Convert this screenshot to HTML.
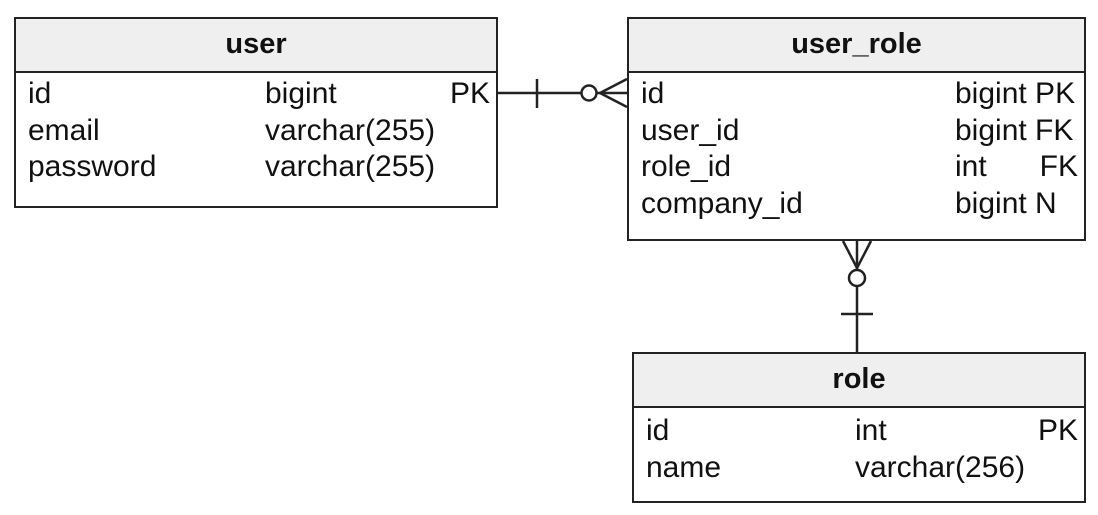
<!DOCTYPE html>
<html><head><style>
body{margin:0;background:#fff;width:1098px;height:515px;overflow:hidden;position:relative;font-family:"Liberation Sans",sans-serif;color:#111}
.b{position:absolute;border:2px solid #222;background:#fff;box-sizing:border-box}
.h{position:absolute;left:0;right:0;top:0;height:52px;background:#efefef;border-bottom:2px solid #222;font-weight:bold;font-size:29px;text-align:center;line-height:50px}
.t{position:absolute;font-size:30px;line-height:30px;white-space:nowrap}
</style></head><body>
<div class="b" style="left:14px;top:17px;width:484px;height:191px">
<div class="h">user</div>
<div class="t" style="left:12px;top:60px">id</div><div class="t" style="left:249px;top:60px">bigint</div><div class="t" style="right:6px;top:60px">PK</div>
<div class="t" style="left:12px;top:97px">email</div><div class="t" style="left:249px;top:97px">varchar(255)</div>
<div class="t" style="left:12px;top:133px">password</div><div class="t" style="left:249px;top:133px">varchar(255)</div>
</div>
<div class="b" style="left:627px;top:17px;width:459px;height:224px">
<div class="h">user_role</div>
<div class="t" style="left:12px;top:60px">id</div><div class="t" style="left:326px;top:60px">bigint PK</div>
<div class="t" style="left:12px;top:97px">user_id</div><div class="t" style="left:326px;top:97px">bigint FK</div>
<div class="t" style="left:12px;top:133px">role_id</div><div class="t" style="left:326px;top:133px">int</div><div class="t" style="right:6px;top:133px">FK</div>
<div class="t" style="left:12px;top:170px">company_id</div><div class="t" style="left:326px;top:170px">bigint N</div>
</div>
<div class="b" style="left:632px;top:352px;width:454px;height:151px">
<div class="h">role</div>
<div class="t" style="left:12px;top:62px">id</div><div class="t" style="left:221px;top:62px">int</div><div class="t" style="right:6px;top:62px">PK</div>
<div class="t" style="left:12px;top:99px">name</div><div class="t" style="left:221px;top:99px">varchar(256)</div>
</div>
<svg width="1098" height="515" style="position:absolute;left:0;top:0" fill="none" stroke="#222" stroke-width="2.5">
<line x1="498" y1="93" x2="582" y2="93"/>
<line x1="537" y1="79" x2="537" y2="108"/>
<circle cx="589" cy="93" r="7.5" fill="#fff"/>
<line x1="597" y1="93" x2="627" y2="93"/>
<line x1="600" y1="93" x2="627" y2="79"/><line x1="600" y1="93" x2="627" y2="107"/>
<line x1="857" y1="241" x2="857" y2="270"/>
<line x1="843" y1="241" x2="857" y2="268"/><line x1="871" y1="241" x2="857" y2="268"/>
<circle cx="857" cy="278" r="8" fill="#fff"/>
<line x1="857" y1="286" x2="857" y2="352"/>
<line x1="841" y1="314" x2="873" y2="314"/>
</svg>
</body></html>
